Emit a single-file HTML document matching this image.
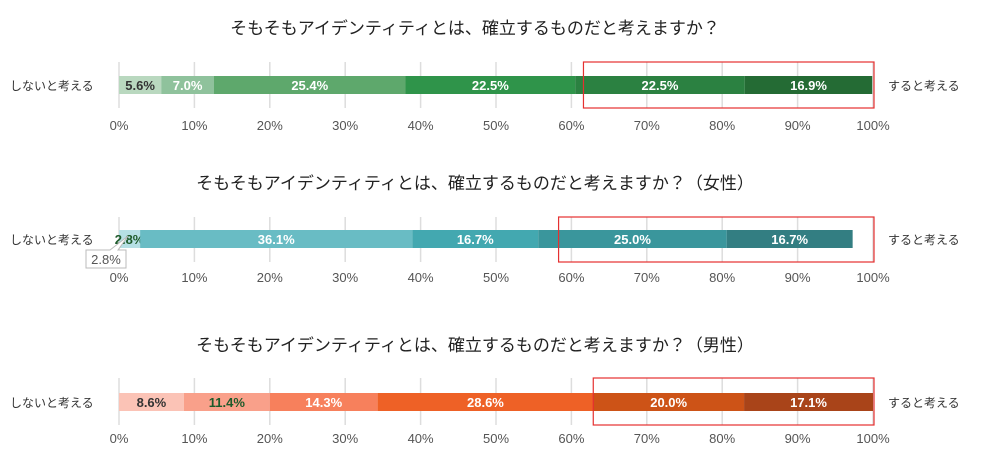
<!DOCTYPE html>
<html><head><meta charset="utf-8"><style>
body{margin:0;background:#fff;width:981px;height:454px;overflow:hidden}
svg{display:block;font-family:"Liberation Sans","Noto Sans CJK JP",sans-serif}
</style></head><body>
<svg id="c" width="981" height="454">
<g id="g"></g>
</svg>
<script>
const titles=["そもそもアイデンティティとは、確立するものだと考えますか？","そもそもアイデンティティとは、確立するものだと考えますか？（女性）","そもそもアイデンティティとは、確立するものだと考えますか？（男性）"];
const valuesAll=[5.6,7.0,25.4,22.5,22.5,16.9];
const valuesFemale=[0,2.8,36.1,16.7,25.0,16.7];
const valuesMale=[8.6,11.4,14.3,28.6,20.0,17.1];
const tickLabels=["0%","10%","20%","30%","40%","50%","60%","70%","80%","90%","100%"];
const highlightStart=[61.6,58.3,62.9];
const leftLabel="しないと考える", rightLabel="すると考える";
const colors=[["#b9d8bf","#8fc29c","#5ea86c","#2f944a","#2b8141","#246b34"],
["#b6e0e5","#b6e0e5","#69bcc4","#43a8b0","#3a969c","#337e82"],
["#fbc3b6","#f9a08a","#f7805c","#ee6126","#cd5317","#a94419"]];
const textCol=[["#333","#fff","#fff","#fff","#fff","#fff"],["#333","#1d5a2a","#fff","#fff","#fff","#fff"],["#333","#1d5a2a","#fff","#fff","#fff","#fff"]];
const series=[valuesAll,valuesFemale,valuesMale];
const NS="http://www.w3.org/2000/svg",g=document.getElementById("g");
const x0=119,x1=873;const xs=v=>x0+(x1-x0)*v/100;
const layout=[{t:28,b:76,gt:62,gb:108,tk:125},{t:183,b:230,gt:217,gb:262,tk:277},{t:345,b:393,gt:378,gb:425,tk:438}];
function mk(tag,at,txt){const e=document.createElementNS(NS,tag);for(const k in at)e.setAttribute(k,at[k]);if(txt!=null)e.textContent=txt;g.appendChild(e);return e;}
series.forEach((vals,ci)=>{
 const L=layout[ci];
 let e=mk("text",{x:475,y:L.t+6,"text-anchor":"middle","font-size":17,fill:"#222"},titles[ci]);
 
 
 tickLabels.forEach((t,i)=>{
  let l=mk("line",{x1:xs(i*10),x2:xs(i*10),y1:L.gt,y2:L.gb,stroke:"#ddd","stroke-width":1.5});
  
  
  let tt=mk("text",{x:xs(i*10),y:L.tk+5,"text-anchor":"middle","font-size":13,fill:"#555"},t);
  
  
 });
 let cum=0;
 vals.forEach((v,i)=>{
  if(v<=0)return;
  const a=xs(cum),b=xs(cum+v);cum+=v;
  let r=mk("rect",{x:a,y:L.b,width:b-a,height:18,fill:colors[ci][i]});
  
  
  let t=mk("text",{x:(a+b)/2,y:L.b+14,"text-anchor":"middle","font-size":13,"font-weight":"bold",fill:textCol[ci][i]},v.toFixed(1)+"%");
  
  
 });
 let ll=mk("text",{x:10,y:L.b+14,"font-size":12,fill:"#333"},leftLabel);
 
 
 let rl=mk("text",{x:888,y:L.b+14,"font-size":12,fill:"#333"},rightLabel);
 
 
 let hb=mk("rect",{x:xs(highlightStart[ci]),y:L.gt,width:x1+1-xs(highlightStart[ci]),height:L.gb-L.gt,fill:"none",stroke:"#e53030","stroke-width":1.2});
 
 
});
// callout in female chart
let cp=mk("path",{d:"M86 250 L86 268 L126 268 L126 250 L118 250 L128 236 L110 250 Z",fill:"#fff",stroke:"#bbb"});


let ct=mk("text",{x:106,y:264,"text-anchor":"middle","font-size":13,fill:"#555"},"2.8%");


</script>
</body></html>
